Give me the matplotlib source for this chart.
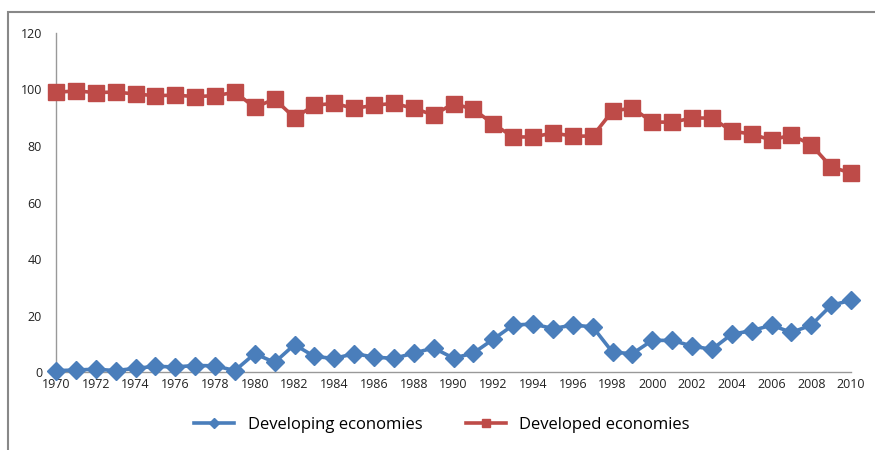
import matplotlib
matplotlib.use("Agg")
import matplotlib.pyplot as plt
from matplotlib.patches import Rectangle

years = list(range(1970, 2011))

developing = [0.5, 0.7, 1.0, 0.5, 1.3, 2.0, 1.8, 2.3, 2.2, 0.5,
              6.5, 3.4, 9.7, 5.5, 4.8, 6.5, 5.3, 4.8, 6.7, 8.5,
              4.9, 6.7, 11.6, 16.6, 17.0, 15.4, 16.6, 16.0, 7.0, 6.5,
              11.2, 11.2, 9.2, 8.0, 13.4, 14.6, 16.6, 14.0, 16.6, 23.6,
              25.4]
developed = [99.0, 99.5, 98.9, 99.1, 98.4, 97.8, 98.0, 97.5, 97.8, 99.0,
             93.7, 96.6, 90.0, 94.4, 95.1, 93.3, 94.4, 95.1, 93.3, 91.0,
             95.0, 93.0, 87.8, 83.2, 83.2, 84.6, 83.5, 83.5, 92.4, 93.4,
             88.5, 88.4, 89.9, 89.9, 85.3, 84.2, 82.1, 83.9, 80.4, 72.6,
             70.4]
year_ticks = list(range(1970, 2011, 2))
y_ticks = [0, 20, 40, 60, 80, 100, 120]

plt.rcParams['font.family'] = ['Open Sans', 'DejaVu Sans']

fig = plt.figure(figsize=(8.75, 4.5), dpi=100)
ax = fig.add_axes([0.064, 0.1733, 0.9086, 0.7534])

blue = '#4a7ebb'
red = '#be4b48'
ax.plot(years, developing, color=blue, lw=2.6, marker='D', ms=9.5,
        label='Developing economies', clip_on=False, zorder=3)
ax.plot(years, developed, color=red, lw=2.6, marker='s', ms=11.5,
        label='Developed economies', clip_on=False, zorder=3)

ax.set_xlim(1970, 2010)
ax.set_ylim(0, 120)
ax.set_xticks(year_ticks)
ax.set_yticks(y_ticks)
ax.tick_params(length=0, labelsize=9, colors='#222222')
ax.tick_params(axis='y', pad=10)
ax.tick_params(axis='x', pad=4)
for s in ['top', 'right']:
    ax.spines[s].set_visible(False)
for s in ['left', 'bottom']:
    ax.spines[s].set_color('#999999')
    ax.spines[s].set_linewidth(1.0)

# chart border (only left and top edges fall inside the image)
fig.patches.append(Rectangle((8 / 875, -0.1), 1.2, 1 - 12 / 450 + 0.1,
                             transform=fig.transFigure, fill=False,
                             edgecolor='#888888', lw=1.5))

ax.legend(loc='center', bbox_to_anchor=(0.505, 0.055),
          bbox_transform=fig.transFigure, ncol=2, frameon=False,
          fontsize=12, handlelength=2.4, markerscale=0.55,
          columnspacing=2.6, handletextpad=0.8)

fig.savefig('out.png', dpi=100)
